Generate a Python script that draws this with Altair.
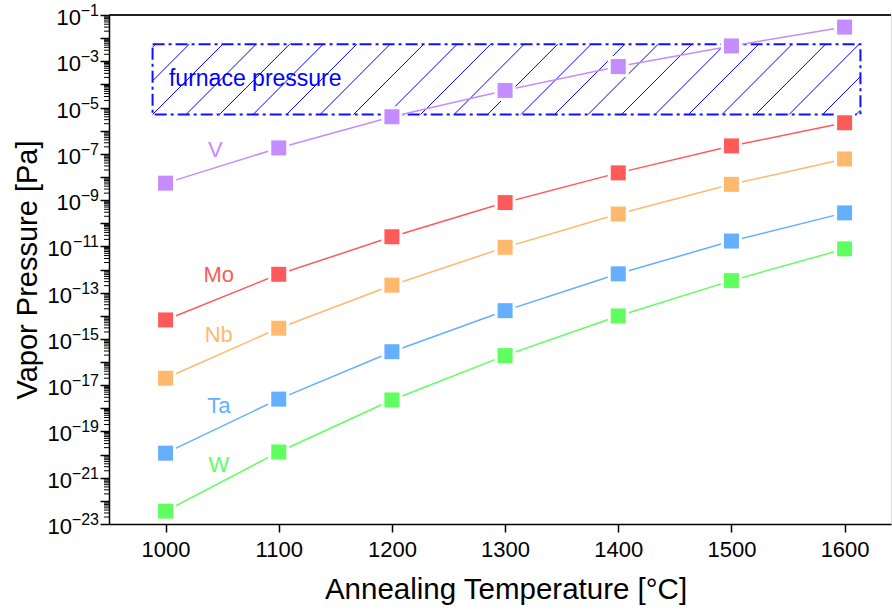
import altair as alt
import numpy as np
import pandas as pd

# ---------------- data ----------------
temps = [1000, 1100, 1200, 1300, 1400, 1500, 1600]
elements = ["V", "Mo", "Nb", "Ta", "W"]
v_vals = [5.4e-9, 1.8e-7, 4.0e-6, 5.5e-5, 5.9e-4, 4.6e-3, 3.0e-2]
mo_vals = [6.6e-15, 6.2e-13, 2.6e-11, 7.8e-10, 1.5e-8, 2.2e-7, 2.2e-6]
nb_vals = [2.0e-17, 2.9e-15, 2.1e-13, 9.1e-12, 2.5e-10, 4.8e-9, 6.0e-8]
ta_vals = [1.15e-20, 2.5e-18, 2.8e-16, 1.66e-14, 6.5e-13, 1.7e-11, 2.8e-10]
w_vals = [3.6e-23, 1.3e-20, 2.3e-18, 1.9e-16, 9.8e-15, 3.3e-13, 7.8e-12]
colors = ["#c48cff", "#ff5a5a", "#ffb96e", "#64afff", "#5fff5f"]

label_x = [1044, 1047, 1047, 1047, 1047]
label_y = [1.5e-7, 5.7e-13, 1.5e-15, 1.3e-18, 3.5e-21]

furnace_x = [988.5, 1614]
furnace_p = [5.0e-6, 5.5e-3]
furnace_text = "furnace pressure"
furnace_text_x = [1003]
furnace_text_y = [1.7e-4]

x_ticks = [1000, 1100, 1200, 1300, 1400, 1500, 1600]
y_exponents = list(range(-23, 0))
y_label_exponents = [-1, -3, -5, -7, -9, -11, -13, -15, -17, -19, -21, -23]

x_title = "Annealing Temperature [°C]"
y_title = "Vapor Pressure [Pa]"

# ---------------- tables ----------------
series = [v_vals, mo_vals, nb_vals, ta_vals, w_vals]
df = pd.DataFrame(
    [{"T": t, "p": v, "el": el} for el, vals in zip(elements, series) for t, v in zip(temps, vals)]
)
labels_df = pd.DataFrame({"el": elements, "x": label_x, "y": label_y})
box_df = pd.DataFrame({"x1": [furnace_x[0]], "x2": [furnace_x[1]],
                       "y1": [furnace_p[0]], "y2": [furnace_p[1]]})
ftext_df = pd.DataFrame({"x": furnace_text_x, "y": furnace_text_y, "t": [furnace_text]})

ylab_df = pd.DataFrame({
    "v": [10.0 ** e for e in y_label_exponents],
    "base": ["10"] * len(y_label_exponents),
    "exp": ["\u2212" + str(-e) for e in y_label_exponents],
    "nd": [len(str(-e)) for e in y_label_exponents],
})

# hatch lines inside the furnace box (45 deg on screen)
H = 62.0     # x-span of one hatch line across box height
SP = 29.6    # spacing between hatch lines
lb, lt = np.log10(furnace_p[0]), np.log10(furnace_p[1])
segs = []
k = -3
while True:
    xb = furnace_x[0] + k * SP
    if xb >= furnace_x[1]:
        break
    t0 = max(0.0, (furnace_x[0] - xb) / H)
    t1 = min(1.0, (furnace_x[1] - xb) / H)
    if t0 < t1:
        segs.append({"x1": xb + t0 * H, "x2": xb + t1 * H,
                     "y1": 10 ** (lb + t0 * (lt - lb)), "y2": 10 ** (lb + t1 * (lt - lb))})
    k += 1
hatch_df = pd.DataFrame(segs)

minor_vals = [m * 10.0 ** e for e in range(-23, -1) for m in range(2, 10)]
minor_df = pd.DataFrame({"v": minor_vals})

# ---------------- scales / axes ----------------
W, Hh = 782, 509
xscale = alt.Scale(domain=[950, 1641], nice=False, zero=False)
yscale = alt.Scale(type="log", domain=[1e-23, 1e-1], nice=False)
cscale = alt.Scale(domain=elements, range=colors)

x_axis = alt.Axis(values=x_ticks, format="d", grid=False, tickSize=8, labelFontSize=22,
                  labelPadding=7, domainColor="black", tickColor="black", labelColor="black",
                  domainWidth=1.5, tickWidth=1.5, title=x_title, titleFontSize=29.5,
                  titleFontWeight="normal", titleColor="black", titleX=396.5, titleY=74,
                  titleBaseline="alphabetic", titleAlign="center")
y_axis = alt.Axis(values=[10.0 ** e for e in y_exponents], labels=False, grid=False,
                  tickSize=9, domainColor="black",
                  tickColor="black", domainWidth=1.5, tickWidth=1.5,
                  title=y_title, titleFontSize=29, titleFontWeight="normal", titleColor="black",
                  titleX=-73, titleY=254.5, titleAngle=-90, titleAlign="center",
                  titleBaseline="alphabetic")

base = alt.Chart(df)

hatch = alt.Chart(hatch_df).mark_rule(color="#0000ff", strokeWidth=1).encode(
    x=alt.X("x1:Q", scale=xscale, axis=x_axis),
    x2="x2:Q",
    y=alt.Y("y1:Q", scale=yscale, axis=y_axis),
    y2="y2:Q",
)
box = alt.Chart(box_df).mark_rect(fillOpacity=0, stroke="#1010ff", strokeWidth=2,
                                  strokeDash=[12, 4, 3, 4]).encode(
    x="x1:Q", x2="x2:Q", y="y1:Q", y2="y2:Q")

lines = base.mark_line(strokeWidth=1.5).encode(
    x="T:Q", y="p:Q", color=alt.Color("el:N", scale=cscale, legend=None), detail="el:N")
halo = base.mark_point(shape="square", filled=True, color="white", opacity=1, size=441).encode(
    x="T:Q", y="p:Q")
pts = base.mark_point(shape="square", filled=True, opacity=1, size=225).encode(
    x="T:Q", y="p:Q", color=alt.Color("el:N", scale=cscale, legend=None))

labels = alt.Chart(labels_df).mark_text(fontSize=22, align="center", baseline="middle").encode(
    x="x:Q", y="y:Q", text="el:N", color=alt.Color("el:N", scale=cscale, legend=None))

ftext = alt.Chart(ftext_df).mark_text(fontSize=23, align="left", baseline="middle",
                                      color="#0000ff").encode(x="x:Q", y="y:Q", text="t:N")

minor = alt.Chart(minor_df).mark_rule(color="black", strokeWidth=1).encode(
    y="v:Q", x=alt.value(-5), x2=alt.value(0))

# y tick labels: "10" with raised exponent
ylab = alt.Chart(ylab_df)
exp_txt = ylab.mark_text(fontSize=16, align="right", baseline="alphabetic", dy=1,
                         color="black").encode(y="v:Q", x=alt.value(-10), text="exp:N")
base1 = ylab.transform_filter("datum.nd == 1").mark_text(
    fontSize=22, align="right", baseline="alphabetic", dy=10, color="black").encode(
    y="v:Q", x=alt.value(-28), text="base:N")
base2 = ylab.transform_filter("datum.nd == 2").mark_text(
    fontSize=22, align="right", baseline="alphabetic", dy=10, color="black").encode(
    y="v:Q", x=alt.value(-37), text="base:N")

top = alt.Chart(box_df).mark_rule(color="#222222", strokeWidth=2).encode(
    x=alt.value(0), x2=alt.value(W), y=alt.value(0))

chart = alt.layer(hatch, box, lines, halo, pts, labels, ftext, minor,
                  exp_txt, base1, base2, top).properties(
    width=W, height=Hh,
    padding={"left": 109, "top": 15, "right": 1, "bottom": 86},
    autosize=alt.AutoSizeParams(type="none"),
).configure_view(stroke=None).configure(font="Liberation Sans")

chart.save("out.html", embed_options={"renderer": "svg", "actions": False})
